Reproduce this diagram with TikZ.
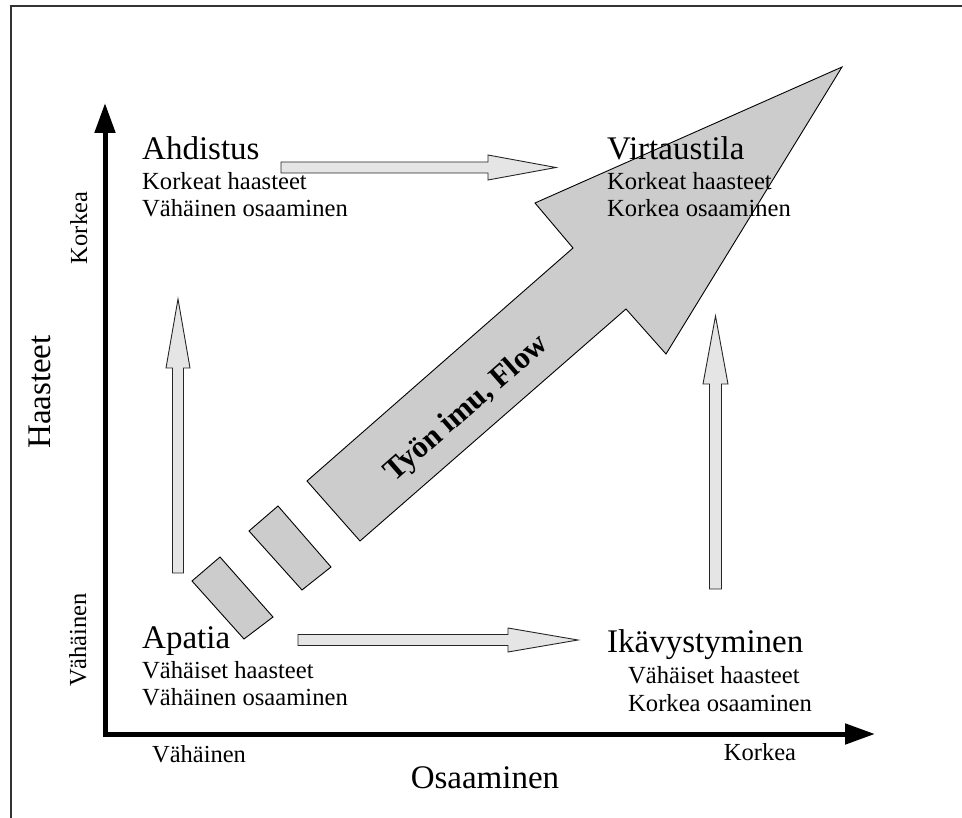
\documentclass[tikz,border=0pt]{standalone}
\usepackage{fontspec}
\setmainfont{Liberation Serif}
\usetikzlibrary{arrows.meta}
\begin{document}
\begin{tikzpicture}[x=1pt,y=-1pt,
  frameline/.style={line width=1.2pt, draw=black!80},
  axisline/.style={line width=5pt, line join=miter,
    {Triangle[length=30pt,width=20pt]}-{Triangle[length=30pt,width=20pt]}},
  blockarrow/.style={draw=black!85, line width=0.9pt, fill=black!10, line join=miter},
  flowpart/.style={draw=black, line width=0.9pt, fill=black!20, line join=miter},
  quadtitle/.style={anchor=base west, inner sep=0pt, font=\fontsize{33}{37}\selectfont},
  quadtext/.style={anchor=base west, inner sep=0pt, font=\fontsize{24.6}{28}\selectfont},
  axistitle/.style={inner sep=0pt, font=\fontsize{33}{37}\selectfont},
  scaletext/.style={anchor=base, inner sep=0pt, font=\fontsize{24.5}{28}\selectfont}]

\useasboundingbox (0,0) rectangle (962,818);

% outer frame (left and top edges)
\draw[frameline] (11,818) -- (11,6) -- (962,6);

% axes
\coordinate (O) at (105,734);
\coordinate (ytip) at (105,103);
\coordinate (xtip) at (875,734);
\draw[axisline] (ytip) -- (O) -- (xtip);

% large diagonal arrow
\path[flowpart] (842,67) -- (535,203) -- (573,248) -- (307,481)
  -- (360,541) -- (626,309) -- (666,354) -- cycle;
\path[flowpart] (249,531) -- (278,506) -- (331,567) -- (302,590) -- cycle;
\path[flowpart] (192,581) -- (220,557) -- (273,617) -- (244,639) -- cycle;
\node[rotate=41.2, inner sep=0pt, font=\bfseries\fontsize{31}{36}\selectfont]
  (flow) at (467,409) {Työn imu, Flow};

% block arrows between the quadrants
\path[blockarrow] (281,162) -- (488,162) -- (488,155) -- (556,167.5)
  -- (488,180) -- (488,173) -- (281,173) -- cycle;
\path[blockarrow] (298,634.5) -- (508,634.5) -- (508,628) -- (578,640)
  -- (508,652) -- (508,645.5) -- (298,645.5) -- cycle;
\path[blockarrow] (172.5,573) -- (172.5,368) -- (166,368) -- (178,299)
  -- (190,368) -- (183.5,368) -- (183.5,573) -- cycle;
\path[blockarrow] (709.5,589) -- (709.5,384) -- (703,384) -- (715.5,316)
  -- (728,384) -- (721.5,384) -- (721.5,589) -- cycle;

% quadrant labels
\node[quadtitle] (ahd) at (142,160) {Ahdistus};
\node[quadtext] (ahd1) at (142,190) {Korkeat haasteet};
\node[quadtext] (ahd2) at (142,217) {Vähäinen osaaminen};

\node[quadtitle] (vir) at (607,160) {Virtaustila};
\node[quadtext] (vir1) at (607,190) {Korkeat haasteet};
\node[quadtext] (vir2) at (607,217) {Korkea osaaminen};

\node[quadtitle] (apa) at (142,648) {Apatia};
\node[quadtext] (apa1) at (142,678) {Vähäiset haasteet};
\node[quadtext] (apa2) at (142,705) {Vähäinen osaaminen};

\node[quadtitle] (ika) at (607,652) {Ikävystyminen};
\node[quadtext] (ika1) at (628,683) {Vähäiset haasteet};
\node[quadtext] (ika2) at (628,711) {Korkea osaaminen};

% axis titles and scale labels
\node[axistitle, rotate=90] (yt) at (40,392) {Haasteet};
\node[axistitle] (xt) at (485,778) {Osaaminen};
\node[scaletext, rotate=90] (yhi) at (87,228) {Korkea};
\node[scaletext, rotate=90] (ylo) at (86,640) {Vähäinen};
\node[scaletext] (xlo) at (199,762) {Vähäinen};
\node[scaletext] (xhi) at (760,760) {Korkea};

\end{tikzpicture}
\end{document}
